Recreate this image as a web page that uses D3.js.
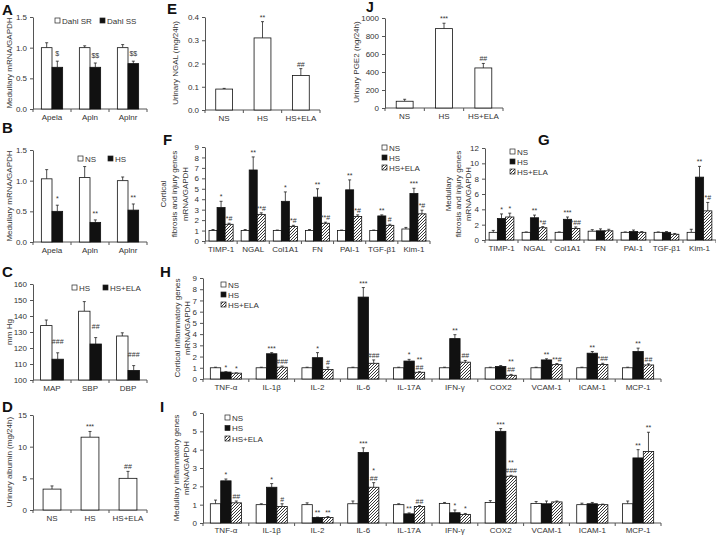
<!DOCTYPE html>
<html><head><meta charset="utf-8">
<script src="https://cdn.jsdelivr.net/npm/d3@7"></script>
<style>body{margin:0;background:#fff}svg{display:block;font-family:"Liberation Sans",Arial,sans-serif}</style>
</head><body><svg id="c" width="716" height="537"></svg>
<script>
// ---------- DATA ----------
const aCats = ["Apela","Apln","Aplnr"];
const aSR = [1.0,1.0,1.0], aSRErr = [0.08,0.03,0.05];
const aSS = [0.68,0.68,0.74], aSSErr = [0.1,0.07,0.04];
const aAnn = ["$","$$","$$"];
const aTicks = [0,0.5,1.0,1.5];

const bNS = [1.03,1.05,1.0], bNSErr = [0.15,0.18,0.06];
const bHS = [0.5,0.32,0.52], bHSErr = [0.1,0.04,0.1];
const bAnn = ["*","**","**"];

const cCats = ["MAP","SBP","DBP"];
const cHS = [134,143,127.5], cHSErr = [3.5,6,2];
const cELA = [113,122.5,106], cELAErr = [4,4,3];
const cAnn = ["###","##","###"];
const cTicks = [100,110,120,130,140,150,160];

const grp3 = ["NS","HS","HS+ELA"];
const dVals = [3.3,11.5,5.0], dErr = [0.5,0.9,1.1], dAnn = ["","***","##"];
const dTicks = [0,5,10,15];
const eVals = [0.09,0.31,0.148], eErr = [0.003,0.07,0.03], eAnn = ["","**","##"];
const eTicks = [0,0.1,0.2,0.3,0.4];
const jVals = [75,882,445], jErr = [22,60,50], jAnn = ["","***","##"];
const jTicks = [0,200,400,600,800,1000];

const fibCats = ["TIMP-1","NGAL","Col1A1","FN","PAI-1","TGF-β1","Kim-1"];
const fNS = [1.0,1.0,1.0,1.0,1.0,1.0,1.15], fNSErr = [0.1,0.1,0.05,0.1,0.05,0.05,0.15];
const fHS = [3.2,6.8,3.8,4.2,4.9,2.4,4.55], fHSErr = [0.6,1.25,0.9,0.8,0.95,0.1,0.5];
const fELA = [1.6,2.55,1.4,1.7,2.35,1.5,2.6], fELAErr = [0.1,0.15,0.1,0.1,0.15,0.1,0.35];
const fHSAnn = ["*","**","*","**","**","**","***"];
const fELAAnn = ["*#","**#","*#","**#","*#","#","*#"];
const fTicks = [0,1,2,3,4,5,6,7,8,9];

const gNS = [1.0,1.0,1.0,1.15,1.0,1.0,1.0], gNSErr = [0.25,0.05,0.05,0.2,0.05,0.05,0.4];
const gHS = [2.8,2.9,2.7,1.2,1.1,1.0,8.2], gHSErr = [0.6,0.35,0.3,0.25,0.2,0.1,1.4];
const gELA = [3.0,1.6,1.5,1.2,1.0,0.75,3.8], gELAErr = [0.5,0.15,0.2,0.2,0.1,0.1,1.1];
const gHSAnn = ["*","**","***","","","","**"];
const gELAAnn = ["*","*#","*##","","","","*#"];
const gTicks = [0,2,4,6,8,10,12];

const infCats = ["TNF-α","IL-1β","IL-2","IL-6","IL-17A","IFN-γ","COX2","VCAM-1","ICAM-1","MCP-1"];
const hNS = [1.0,1.0,1.0,1.0,1.0,1.0,1.0,1.0,1.0,1.0], hNSErr = [0.05,0.05,0.05,0.05,0.05,0.05,0.05,0.05,0.05,0.05];
const hHS = [0.62,2.25,1.9,7.3,1.6,3.6,1.12,1.7,2.3,2.45], hHSErr = [0.03,0.1,0.45,0.85,0.15,0.35,0.08,0.1,0.15,0.3];
const hELA = [0.52,1.05,0.85,1.4,0.6,1.5,0.33,1.28,1.3,1.25], hELAErr = [0.03,0.1,0.2,0.3,0.05,0.15,0.08,0.1,0.1,0.1];
const hHSAnn = ["*","***","*","***","*","**","","**","**","**"];
const hELAAnn = ["*","###","#","###","**\n##","##","**\n##","**#","*##","##"];
const hTicks = [0,1,2,3,4,5,6,7,8,9];

const iNS = [1.05,1.0,1.0,1.05,1.0,1.07,1.12,1.07,1.0,1.05], iNSErr = [0.2,0.05,0.1,0.15,0.05,0.05,0.1,0.1,0.08,0.15];
const iHS = [2.3,1.95,0.3,3.85,0.5,0.56,5.0,1.05,1.05,3.55], iHSErr = [0.1,0.2,0.02,0.25,0.05,0.15,0.15,0.15,0.07,0.45];
const iELA = [1.1,0.9,0.3,1.95,0.9,0.47,2.55,1.15,1.0,3.9], iELAErr = [0.1,0.15,0.05,0.25,0.05,0.05,0.05,0.05,0.03,1.05];
const iHSAnn = ["*","*","**","***","**","*","***","","","**"];
const iELAAnn = ["##","#","**","*\n##","##","*","**\n###","","","**"];
const iTicks = [0,1,2,3,4,5,6];

// ---------- DRAWING ----------
const svg = d3.select("#c");
const TXT = "#333", AX = "#555";
const defs = svg.append("defs");
const pat = defs.append("pattern").attr("id","hatch").attr("patternUnits","userSpaceOnUse")
  .attr("width",3).attr("height",3);
pat.append("rect").attr("width",3).attr("height",3).attr("fill","#fff");
pat.append("path").attr("d","M-1,1 l2,-2 M0,3 l3,-3 M2,4 l2,-2").attr("stroke","#222").attr("stroke-width",0.9);

const fills = {white:"#fff", black:"#111", hatch:"url(#hatch)"};

function letter(t,x,y,fs){
  svg.append("text").attr("x",x).attr("y",y).text(t).attr("font-size",fs||15).attr("font-weight","bold").attr("fill","#111");
}
function ytitle(lines,xs,cy){
  lines.forEach((l,i)=>{
    svg.append("text").attr("transform",`translate(${xs[i]},${cy}) rotate(-90)`)
      .attr("text-anchor","middle").attr("font-size",8).attr("fill",TXT).text(l);
  });
}
function legend(items,x,y,dx,dy){
  items.forEach((it,i)=>{
    const lx = x + i*dx, ly = y + i*dy;
    svg.append("rect").attr("x",lx).attr("y",ly-3).attr("width",5).attr("height",5)
      .attr("fill",fills[it.fill]).attr("stroke","#222").attr("stroke-width",0.7);
    svg.append("text").attr("x",lx+7).attr("y",ly+2.5).attr("font-size",8).attr("fill",TXT).text(it.label);
  });
}

function panel(o){
  const g = svg.append("g");
  const x = d3.scaleBand().domain(o.cats).range([o.x0,o.x1]);
  const y = d3.scaleLinear().domain(o.dom).range([o.yb,o.yt]);
  const ya = g.append("g").attr("transform",`translate(${o.x0},0)`)
    .call(d3.axisLeft(y).tickValues(o.ticks).tickFormat(o.fmt).tickSize(3).tickSizeOuter(0).tickPadding(3));
  ya.attr("font-family",null).attr("font-size",null);
  ya.select(".domain").attr("stroke",AX);
  ya.selectAll(".tick line").attr("stroke",AX);
  ya.selectAll(".tick text").attr("font-size",8).attr("fill",TXT);
  g.append("line").attr("x1",o.x0).attr("x2",o.x1).attr("y1",o.yb).attr("y2",o.yb).attr("stroke",AX);
  const bounds = o.cats.map(c=>x(c)).concat([o.x1]);
  g.selectAll(".xt").data(bounds).join("line").attr("x1",d=>d).attr("x2",d=>d)
    .attr("y1",o.yb).attr("y2",o.yb+3).attr("stroke",AX);
  g.selectAll(".xl").data(o.cats).join("text").attr("x",c=>x(c)+x.bandwidth()/2).attr("y",o.yb+o.labDy)
    .attr("text-anchor","middle").attr("font-size",8).attr("fill",TXT).text(c=>c);
  const n = o.series.length;
  const bw = x.bandwidth()*o.inner/n;
  const gap = o.gap || 2;
  o.series.forEach((s,si)=>{
    o.cats.forEach((c,ci)=>{
      const bx = x(c) + (x.bandwidth()-n*bw)/2 + si*bw;
      const v = s.vals[ci], e = s.errs[ci];
      const ytop = y(v), base = y(o.dom[0]);
      const cx = bx + bw/2;
      g.append("line").attr("x1",cx).attr("x2",cx).attr("y1",ytop).attr("y2",y(v+e)).attr("stroke","#222").attr("stroke-width",0.8);
      g.append("line").attr("x1",cx-1.5).attr("x2",cx+1.5).attr("y1",y(v+e)).attr("y2",y(v+e)).attr("stroke","#222").attr("stroke-width",0.8);
      g.append("rect").attr("x",bx).attr("y",ytop).attr("width",bw).attr("height",base-ytop)
        .attr("fill",fills[s.fill]).attr("stroke","#111").attr("stroke-width",0.8);
      const ann = s.anns ? s.anns[ci] : "";
      if(ann){
        const lines = ann.split("\n");
        lines.forEach((l,li)=>{
          g.append("text").attr("x",cx).attr("y",y(v+e)-gap-(lines.length-1-li)*8)
            .attr("text-anchor","middle").attr("font-size",7).attr("fill",TXT).text(l);
        });
      }
    });
  });
}

// Panel A
letter("A",2,15);
panel({x0:33,x1:147,yb:109,yt:17,dom:[0,1.5],ticks:aTicks,fmt:d3.format(".1f"),cats:aCats,inner:0.56,labDy:11,gap:5,
  series:[{vals:aSR,errs:aSRErr,fill:"white"},{vals:aSS,errs:aSSErr,fill:"black",anns:aAnn}]});
legend([{fill:"white",label:"Dahl SR"},{fill:"black",label:"Dahl SS"}],55,21,45,0);
ytitle(["Medullary mRNA/GAPDH"],[12],63);

// Panel B
letter("B",2,133);
panel({x0:33,x1:147,yb:242,yt:150,dom:[0,1.5],ticks:aTicks,fmt:d3.format(".1f"),cats:aCats,inner:0.56,labDy:11,gap:4,
  series:[{vals:bNS,errs:bNSErr,fill:"white"},{vals:bHS,errs:bHSErr,fill:"black",anns:bAnn}]});
legend([{fill:"white",label:"NS"},{fill:"black",label:"HS"}],78,159,30,0);
ytitle(["Medullary mRNA/GAPDH"],[12],196);

// Panel C
letter("C",2,277);
panel({x0:33,x1:147,yb:380,yt:284,dom:[100,160],ticks:cTicks,fmt:d3.format("d"),cats:cCats,inner:0.6,labDy:11,gap:9,
  series:[{vals:cHS,errs:cHSErr,fill:"white"},{vals:cELA,errs:cELAErr,fill:"black",anns:cAnn}]});
legend([{fill:"white",label:"HS"},{fill:"black",label:"HS+ELA"}],72,288,31,0);
ytitle(["mm Hg"],[12],332);

// Panel D
letter("D",2,412);
panel({x0:33,x1:147,yb:510,yt:415,dom:[0,15],ticks:dTicks,fmt:d3.format("d"),cats:grp3,inner:0.47,labDy:11,
  series:[{vals:dVals,errs:dErr,fill:"white",anns:dAnn}]});
ytitle(["Urinary albumin (mg/24h)"],[12],462);

// Panel E
letter("E",167,14);
panel({x0:205,x1:320,yb:110,yt:17,dom:[0,0.4],ticks:eTicks,fmt:d3.format(".1f"),cats:grp3,inner:0.44,labDy:11,
  series:[{vals:eVals,errs:eErr,fill:"white",anns:eAnn}]});
ytitle(["Urinary NGAL (mg/24h)"],[178],63);

// Panel J
letter("J",366,12,14);
panel({x0:385,x1:503,yb:108,yt:18,dom:[0,1000],ticks:jTicks,fmt:d3.format("d"),cats:grp3,inner:0.43,labDy:11,
  series:[{vals:jVals,errs:jErr,fill:"white",anns:jAnn}]});
ytitle(["Urinary PGE2 (ng/24h)"],[359],62);

// Panel F
letter("F",163,145);
panel({x0:205,x1:430,yb:241,yt:147,dom:[0,9],ticks:fTicks,fmt:d3.format("d"),cats:fibCats,inner:0.75,labDy:11,
  series:[{vals:fNS,errs:fNSErr,fill:"white"},{vals:fHS,errs:fHSErr,fill:"black",anns:fHSAnn},{vals:fELA,errs:fELAErr,fill:"hatch",anns:fELAAnn}]});
legend([{fill:"white",label:"NS"},{fill:"black",label:"HS"},{fill:"hatch",label:"HS+ELA"}],382,148,0,10);
ytitle(["Cortical","fibrosis and injury genes","mRNA/GAPDH"],[166,177,188],194);

// Panel G
letter("G",538,145);
panel({x0:485,x1:716,yb:240,yt:148,dom:[0,12],ticks:gTicks,fmt:d3.format("d"),cats:fibCats,inner:0.75,labDy:11,
  series:[{vals:gNS,errs:gNSErr,fill:"white"},{vals:gHS,errs:gHSErr,fill:"black",anns:gHSAnn},{vals:gELA,errs:gELAErr,fill:"hatch",anns:gELAAnn}]});
legend([{fill:"white",label:"NS"},{fill:"black",label:"HS"},{fill:"hatch",label:"HS+ELA"}],510,152,0,10);
ytitle(["Medullary","fibrosis and injury genes","mRNA/GAPDH"],[451,461,471],194);

// Panel H
letter("H",160,277);
panel({x0:203,x1:661,yb:379,yt:278,dom:[0,9],ticks:hTicks,fmt:d3.format("d"),cats:infCats,inner:0.68,labDy:11,
  series:[{vals:hNS,errs:hNSErr,fill:"white"},{vals:hHS,errs:hHSErr,fill:"black",anns:hHSAnn},{vals:hELA,errs:hELAErr,fill:"hatch",anns:hELAAnn}]});
legend([{fill:"white",label:"NS"},{fill:"black",label:"HS"},{fill:"hatch",label:"HS+ELA"}],221,285,0,10);
ytitle(["Cortical inflammatory genes","mRNA/GAPDH"],[180,190],328);

// Panel I
letter("I",160,412);
panel({x0:203,x1:661,yb:523,yt:413,dom:[0,6],ticks:iTicks,fmt:d3.format("d"),cats:infCats,inner:0.68,labDy:10,
  series:[{vals:iNS,errs:iNSErr,fill:"white"},{vals:iHS,errs:iHSErr,fill:"black",anns:iHSAnn},{vals:iELA,errs:iELAErr,fill:"hatch",anns:iELAAnn}]});
legend([{fill:"white",label:"NS"},{fill:"black",label:"HS"},{fill:"hatch",label:"HS+ELA"}],225,418,0,10.5);
ytitle(["Medullary inflammatory genes","mRNA/GAPDH"],[179,189],468);
</script></body></html>
